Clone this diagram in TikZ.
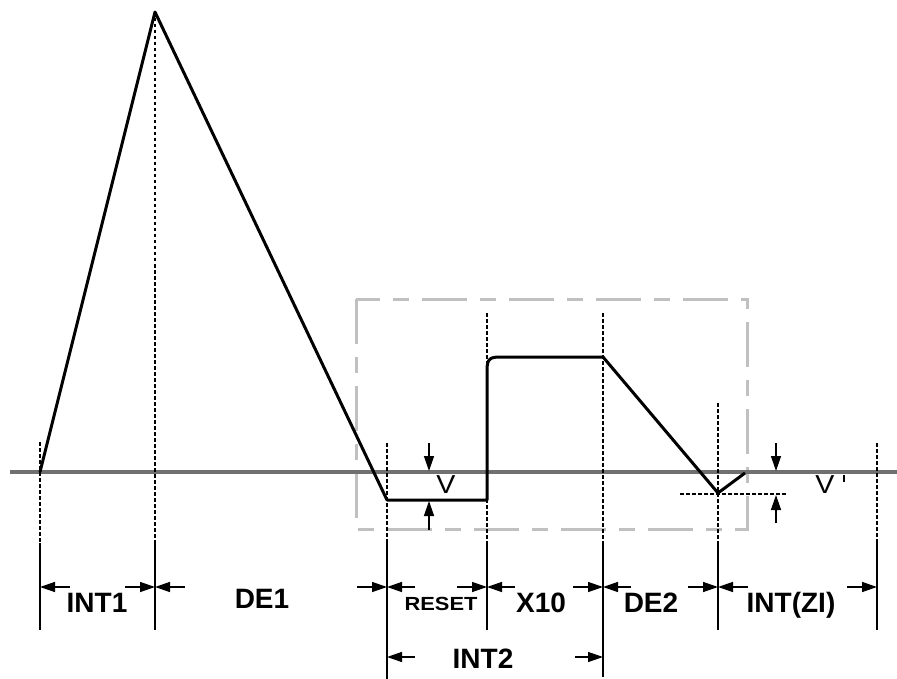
\documentclass[tikz,border=0pt]{standalone}
\usepackage{fontspec}
\setmainfont{Liberation Sans}
\usetikzlibrary{arrows.meta}
\definecolor{axisgray}{RGB}{112,112,112}
\definecolor{boxgray}{RGB}{192,192,192}
\begin{document}
\begin{tikzpicture}[x=1pt,y=-1pt,
  wave/.style={line width=3pt, line join=round},
  guide/.style={line width=1.1pt, dash pattern=on 3.5pt off 2.5pt},
  tickline/.style={line width=1.4pt},
  dimarrow/.style={line width=1.4pt, -{Triangle[length=15pt,width=10pt]}},
  lab/.style={font=\bfseries\fontsize{28}{28}\selectfont, inner sep=0pt, anchor=base},
  smalllab/.style={font=\bfseries\fontsize{19}{19}\selectfont, inner sep=0pt, anchor=base, xscale=1.15},
  vlab/.style={font=\fontsize{26}{26}\selectfont, inner sep=0pt, anchor=base, xscale=1.1}]
\useasboundingbox (0,0) rectangle (897,679);

% gray dashed box
\draw[line width=3pt, boxgray, dash pattern=on 45pt off 13pt on 16pt off 13pt] (356,299) rectangle (747,529);

% baseline
\draw[line width=4.5pt, axisgray] (10,472) -- (897,472);

% guide lines (dashed part) and ticks (solid part)
\foreach \x/\top/\bot in {40/442/630, 155/12/630, 387/443/679, 487/313/630, 603/313/677, 718/403/630, 877/443/630}{
  \draw[guide] (\x,\top) -- (\x,543);
  \draw[tickline] (\x,543) -- (\x,\bot);
}

% waveform
\coordinate (s) at (40,472);
\coordinate (pk) at (155,12);
\coordinate (r1) at (387,500);
\coordinate (r2) at (487,500);
\coordinate (u1) at (487,370);
\coordinate (u2) at (500,357);
\coordinate (t2) at (603,357);
\coordinate (m) at (718,493);
\coordinate (e) at (745,473);
\draw[wave] (s) -- (pk) -- (r1) -- (r2) -- (u1) .. controls (487,359) and (490,357) .. (u2) -- (t2) -- (m) -- (e);

% horizontal dashed at V' level
\draw[guide] (680,494) -- (786,494);

% V arrows
\coordinate (va) at (429,443);
\coordinate (vb) at (429,471);
\coordinate (vc) at (429,530);
\coordinate (vd) at (429,501);
\draw[dimarrow] (va) -- (vb);
\draw[dimarrow] (vc) -- (vd);
\node[vlab] (V) at (446,493) {V};

% V' arrows
\coordinate (wa) at (776,443);
\coordinate (wb) at (776,471);
\coordinate (wc) at (776,523);
\coordinate (wd) at (776,495);
\draw[dimarrow] (wa) -- (wb);
\draw[dimarrow] (wc) -- (wd);
\node[vlab] (Vp) at (825,493) {V};
\draw[line width=1.3pt] (844,475) -- (844,482);

% dimension arrows
\foreach \a/\b in {70/40, 125/155, 185/155, 357/387, 415/387, 457/487, 515/487, 573/603, 631/603, 688/718, 748/718, 847/877}{
  \draw[dimarrow] (\a,587) -- (\b,587);
}
\draw[dimarrow] (415,657) -- (387,657);
\draw[dimarrow] (575,657) -- (603,657);

% labels
\node[lab] (int1) at (97,612) {INT1};
\node[lab] (de1) at (262,608) {DE1};
\node[smalllab] (reset) at (441,610) {RESET};
\node[lab] (x10) at (541,612) {X10};
\node[lab] (de2) at (651,612) {DE2};
\node[lab] (intzi) at (791,612) {INT(ZI)};
\node[lab] (int2) at (483,668) {INT2};
\end{tikzpicture}
\end{document}
